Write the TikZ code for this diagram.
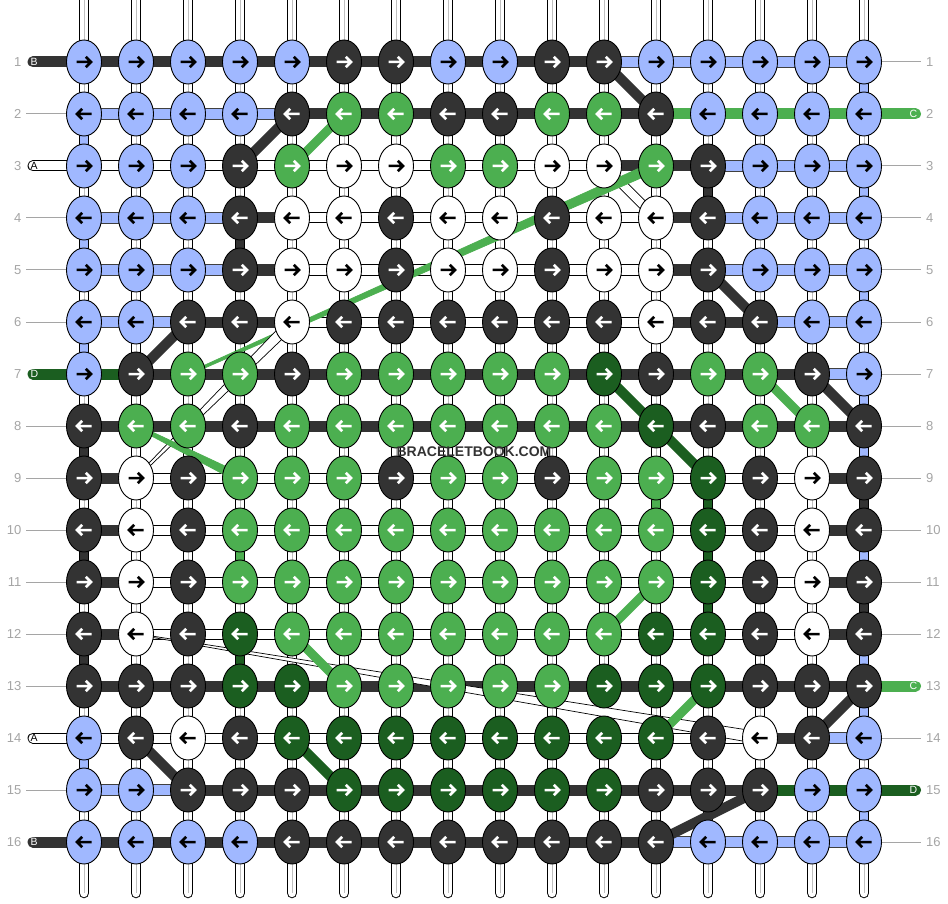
\documentclass[tikz,border=0pt]{standalone}
\usepackage{fontspec}
\setmainfont{Liberation Sans}
\usetikzlibrary{shapes.geometric,calc}
\definecolor{kb}{RGB}{160,184,255}
\definecolor{kk}{RGB}{51,51,51}
\definecolor{kg}{RGB}{76,175,80}
\definecolor{kd}{RGB}{27,94,32}
\definecolor{lab}{RGB}{165,165,165}
\newcommand\taper[6]{%
  \filldraw[fill=#1,draw=#2,line width=0.7pt] ($(#3)!#5!90:(#4)$) -- ($(#4)!#6!-90:(#3)$) -- ($(#4)!#6!90:(#3)$) -- ($(#3)!#5!-90:(#4)$) -- cycle;}
\tikzset{
  bar b/.style={line width=0.7pt,draw=black!75,double=kb,double distance=10pt},
  bar k/.style={line width=11pt,draw=kk},
  bar g/.style={line width=11pt,draw=kg},
  bar d/.style={line width=11pt,draw=kd},
  bar w/.style={line width=1pt,draw=black,double=white,double distance=9pt},
  knot/.style={ellipse,draw=black,line width=0.9pt,minimum width=35pt,minimum height=44pt,inner sep=0pt},
  knot b/.style={fill=kb}, knot k/.style={fill=kk}, knot w/.style={fill=white},
  knot g/.style={fill=kg}, knot d/.style={fill=kd},
  arr b/.style={draw=black}, arr w/.style={draw=black}, arr k/.style={draw=white},
  arr g/.style={draw=white}, arr d/.style={draw=white},
  num/.style={font=\fontsize{13}{13}\selectfont, text=lab, inner sep=0pt},
  tagtxt/.style={font=\fontsize{10.5}{10.5}\selectfont, inner sep=0pt},
  diag/.style={line width=10pt},
  wdiag/.style={line width=0.8pt,draw=black,double=white,double distance=8pt},
  wm/.style={font=\bfseries\fontsize{14}{14}\selectfont, inner sep=0pt},
}
\begin{document}
\begin{tikzpicture}[x=1pt,y=-1pt]
\fill[white] (0,0) rectangle (948,904);
\useasboundingbox (0,0) rectangle (948,904);
% grid coordinates
\foreach \r in {1,...,16}{
  \foreach \c in {1,...,16}{
    \coordinate (p-\r-\c) at ({84+52*(\c-1)},{62+52*(\r-1)});
  }
}
% vertical strings
\foreach \c in {1,...,16}{
  \coordinate (st-\c) at ({84+52*(\c-1)},-10);
  \coordinate (sb-\c) at ({84+52*(\c-1)},893);
  \draw[line width=10.5pt,line cap=round,black] (st-\c) -- (sb-\c);
  \draw[line width=8.5pt,line cap=round,white] (st-\c) -- (sb-\c);
  \draw[line width=0.8pt,black!25] (st-\c) -- (sb-\c);
}
% vertical fills
\foreach \c/\ra/\rb/\col in {
  1/2/3/kb, 1/4/5/kb, 1/6/7/kb, 1/8/9/kk, 1/10/11/kk, 1/12/13/kk, 1/14/15/kb,
  16/1/2/kb, 16/3/4/kb, 16/5/6/kb, 16/7/8/kb, 16/8/9/kb, 16/9/10/kk, 16/10/11/kb,
  16/11/12/kk, 16/12/13/kb, 16/13/14/kb, 16/15/16/kb,
  4/4/5/kk, 4/10/11/kg, 4/12/13/kd, 12/9/10/kg,
  13/3/4/kk, 13/9/10/kd, 13/10/11/kd, 13/11/12/kd}{
  \draw[line width=10.5pt,black] (p-\ra-\c) -- (p-\rb-\c);
  \draw[line width=8.5pt,\col] (p-\ra-\c) -- (p-\rb-\c);
}
% horizontal bars
\foreach \r/\segs in {
1/{k,k,k,k,k,k,k,k,k,k,b,b,b,b,b},
2/{b,b,b,b,k,k,k,k,k,k,k,g,g,g,g},
3/{w,w,w,w,w,w,w,w,w,w,k,k,b,b,b},
4/{b,b,b,k,w,w,w,w,w,w,w,k,b,b,b},
5/{b,b,b,k,w,w,w,w,w,w,w,k,b,b,b},
6/{b,b,k,k,w,w,w,w,w,w,w,k,k,b,b},
7/{d,k,k,k,k,k,k,k,k,k,k,k,k,k,b},
8/{k,k,k,k,k,k,k,k,k,k,k,k,k,k,k},
9/{k,w,w,w,w,w,w,w,w,w,w,w,w,w,k},
10/{k,w,w,w,w,w,w,w,w,w,w,w,w,w,k},
11/{k,w,w,w,w,w,w,w,w,w,w,w,w,w,k},
12/{k,w,w,w,w,w,w,w,w,w,w,w,w,w,k},
13/{k,k,k,k,k,k,k,k,k,k,k,k,k,k,k},
14/{w,w,w,w,w,w,w,w,w,w,w,w,w,k,b},
15/{b,b,k,k,k,k,k,k,k,k,k,k,k,d,d},
16/{k,k,k,k,k,k,k,k,k,k,k,b,b,b,b}}{
  \foreach \s [count=\c] in \segs {
    \pgfmathtruncatemacro\cn{\c+1}
    \draw[bar \s] (p-\r-\c) -- (p-\r-\cn);
  }
}
% edge tags and guide lines
\foreach \r in {1,...,16}{
  \pgfmathsetmacro\yy{62+52*(\r-1)}
  \node[num,anchor=east] (ln-\r) at (21.5,\yy) {\r};
  \node[num,anchor=west] (rn-\r) at (926,\yy) {\r};
  \coordinate (gl-\r) at (26,\yy);
  \coordinate (gr-\r) at (921,\yy);
  \coordinate (tl-\r) at (33,\yy);
  \coordinate (tr-\r) at (915.5,\yy);
}
\foreach \r in {2,4,5,6,8,9,10,11,12,13,15}{
  \draw[lab,line width=1pt] (gl-\r) -- (p-\r-1);
}
\foreach \r in {1,3,4,5,6,7,8,9,10,11,12,14,16}{
  \draw[lab,line width=1pt] (p-\r-16) -- (gr-\r);
}
\foreach \r/\s/\t/\tc in {1/k/B/white, 3/w/A/black, 7/d/D/white, 14/w/A/black, 16/k/B/white}{
  \draw[bar \s,line cap=round] (tl-\r) -- (p-\r-1);
  \node[tagtxt,text=\tc,anchor=west] (tagl-\r) at ($(tl-\r)+(-2.5,0)$) {\t};
}
\foreach \r/\s/\t/\tc in {2/g/C/white, 13/g/C/white, 15/d/D/white}{
  \draw[bar \s,line cap=round] (p-\r-16) -- (tr-\r);
  \node[tagtxt,text=\tc,anchor=east] (tagr-\r) at ($(tr-\r)+(2,0)$) {\t};
}
% diagonal threads
\draw[diag,kk] (p-1-11) -- (p-2-12);
\draw[diag,kk] (p-2-5) -- (p-3-4);
\draw[diag,kg,line width=9pt] (p-2-6) -- (p-3-5);
\draw[wdiag] (p-3-11) -- (p-4-12);
\taper{kg}{kg}{p-3-12}{p-7-3}{5pt}{1.2pt}
\draw[diag,kk] (p-5-13) -- (p-6-14);
\draw[diag,kk] (p-6-3) -- (p-7-2);
\taper{white}{black}{p-6-5}{p-9-2}{5.5pt}{1pt}
\draw[diag,kd] (p-7-11) -- (p-9-13);
\draw[diag,kg,line width=9pt] (p-7-14) -- (p-8-15);
\draw[diag,kk] (p-7-15) -- (p-8-16);
\taper{kg}{kg}{p-8-2}{p-9-4}{1.5pt}{4.5pt}
\draw[diag,kg,line width=9pt] (p-11-12) -- (p-12-11);
\taper{white}{black}{p-12-2}{p-14-14}{0.5pt}{6pt}
\draw[diag,kg,line width=9pt] (p-12-5) -- (p-13-6);
\draw[diag,kg,line width=9pt] (p-13-13) -- (p-14-12);
\draw[diag,kk] (p-13-16) -- (p-14-15);
\draw[diag,kk] (p-14-2) -- (p-15-3);
\draw[diag,kd] (p-14-5) -- (p-15-6);
\draw[diag,kk] (p-16-12) -- (p-15-14);
% knots
\foreach \r/\ks in {
1/{b,b,b,b,b,k,k,b,b,k,k,b,b,b,b,b},
2/{b,b,b,b,k,g,g,k,k,g,g,k,b,b,b,b},
3/{b,b,b,k,g,w,w,g,g,w,w,g,k,b,b,b},
4/{b,b,b,k,w,w,k,w,w,k,w,w,k,b,b,b},
5/{b,b,b,k,w,w,k,w,w,k,w,w,k,b,b,b},
6/{b,b,k,k,w,k,k,k,k,k,k,w,k,k,b,b},
7/{b,k,g,g,k,g,g,g,g,g,d,k,g,g,k,b},
8/{k,g,g,k,g,g,g,g,g,g,g,d,k,g,g,k},
9/{k,w,k,g,g,g,k,g,g,k,g,g,d,k,w,k},
10/{k,w,k,g,g,g,g,g,g,g,g,g,d,k,w,k},
11/{k,w,k,g,g,g,g,g,g,g,g,g,d,k,w,k},
12/{k,w,k,d,g,g,g,g,g,g,g,d,d,k,w,k},
13/{k,k,k,d,d,g,g,g,g,g,d,d,d,k,k,k},
14/{b,k,w,k,d,d,d,d,d,d,d,d,k,w,k,b},
15/{b,b,k,k,k,d,d,d,d,d,d,k,k,k,b,b},
16/{b,b,b,b,k,k,k,k,k,k,k,k,b,b,b,b}}{
  \pgfmathtruncatemacro\sg{1-2*mod(\r+1,2)}
  \foreach \k [count=\c] in \ks {
    \node[knot,knot \k] (n-\r-\c) at (p-\r-\c) {};
    \begin{scope}[shift={(p-\r-\c)},xscale=\sg]
      \draw[arr \k,line width=2.5pt,line join=miter] (-7.5,0) -- (6.5,0) (1.8,-5.2) -- (7,0) -- (1.8,5.2);
    \end{scope}
  }
}
% watermark
\node[wm,text=kk] (wmark) at (474,452) {BRACELETBOOK.COM};
\end{tikzpicture}
\end{document}
